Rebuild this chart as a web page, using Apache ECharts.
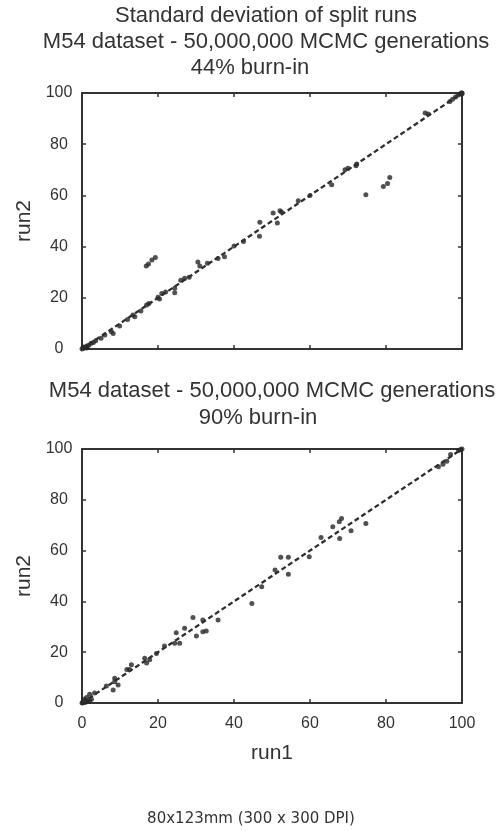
<!DOCTYPE html>
<html>
<head>
<meta charset="utf-8">
<script src="https://cdn.jsdelivr.net/npm/echarts@6/dist/echarts.min.js"></script>
<style>
html,body{margin:0;padding:0;background:#fff;}
#chart{width:500px;height:831px;}
</style>
</head>
<body>
<div id="chart"></div>
<script>
// ---- data ----
const titleTop = ['Standard deviation of split runs', 'M54 dataset - 50,000,000 MCMC generations', '44% burn-in'];
const titleBottom = ['M54 dataset - 50,000,000 MCMC generations', '90% burn-in'];
const caption = '80x123mm (300 x 300 DPI)';
const xName = 'run1';
const yName = 'run2';
const tickValues = [0, 20, 40, 60, 80, 100];
const diagonal = [0, 100];

// 44% burn-in
const run1Top = [0, 0.4, 0.9, 1.3, 1.8, 2.4, 3.0, 0.3, 1.2, 3.6, 5.0, 6.0, 7.7, 8.2, 9.9, 12.0, 13.4, 13.9, 15.5, 17.0, 17.6, 20.0, 20.4, 21.0, 22.0, 24.4, 24.4, 26.0, 27.0, 28.2,
  16.9, 17.5, 18.4, 19.3,
  30.5, 31.0, 33.0, 35.8, 37.5, 40.0, 42.5,
  46.8, 46.7, 50.3, 51.4, 52.1, 52.5, 56.9, 60.0, 65.7, 69.2, 70.0, 72.1, 72.3,
  74.7, 79.3, 80.4, 81.0,
  90.3, 91.1, 96.8, 97.5, 98.3, 99.0, 99.5, 100, 99.8, 100];
const run2Top = [0, 0.3, 0.8, 1.2, 1.5, 2.2, 2.5, 0.8, 0.4, 3.2, 4.2, 5.5, 6.8, 6.1, 9.0, 11.5, 13.3, 12.6, 14.8, 17.2, 17.8, 20.2, 19.5, 21.7, 22.3, 22.0, 23.7, 26.9, 27.6, 28.0,
  32.4, 33.2, 34.8, 35.7,
  34.0, 32.4, 33.5, 35.4, 36.0, 40.2, 42.0,
  49.5, 44.0, 53.1, 49.2, 54.0, 53.5, 57.9, 60.0, 64.2, 70.0, 70.6, 71.6, 72.3,
  60.3, 63.5, 64.6, 67.0,
  92.2, 91.8, 96.7, 97.6, 98.4, 99.2, 99.6, 100, 100, 99.7];

// 90% burn-in
const run1Bot = [0, 0.3, 0.8, 1.0, 1.5, 0.5, 2.0, 2.5, 1.2, 0.2, 2.0, 3.3, 6.4, 8.6, 8.6, 8.2, 9.5, 12.5, 13.0, 11.8, 16.5, 17.0, 17.8, 19.6, 21.7, 24.8, 25.7, 24.4, 27.0, 29.2, 30.1, 31.8, 32.7, 31.8, 35.8,
  44.7, 47.3, 50.8, 52.3, 54.3, 54.3, 59.8, 62.9, 66.0, 67.7, 68.3, 67.8, 70.8, 74.7,
  93.8, 95.0, 96.0, 97.0, 99.1, 100, 99.6];
const run2Bot = [0, 0.5, 0.2, 1.0, 0.6, 1.5, 0.8, 1.5, 2.2, 0.1, 3.4, 3.9, 6.7, 9.7, 8.4, 5.1, 7.1, 13.2, 15.1, 13.2, 17.6, 15.7, 17.0, 19.5, 22.4, 27.7, 23.5, 23.5, 29.4, 33.7, 26.4, 28.1, 28.3, 32.7, 32.7,
  39.2, 45.8, 52.4, 57.4, 57.4, 50.7, 57.6, 65.2, 69.4, 71.4, 72.6, 64.8, 67.8, 70.7,
  93.0, 94.0, 95.2, 97.8, 99.4, 100, 99.8];

// ---- chart ----
const FONT = "'Liberation Sans', Arial, Helvetica, sans-serif";
const INK = '#333';
const chart = echarts.init(document.getElementById('chart'), null, {renderer: 'canvas'});

const zip = (a, b) => a.map((v, i) => [v, b[i]]);
const diag = diagonal.map(v => [v, v]);

function xAx(grid, pos, labels) {
  return {
    type: 'value', gridIndex: grid, position: pos, min: tickValues[0], max: tickValues[tickValues.length - 1], interval: 20,
    axisLine: {show: true, onZero: false, lineStyle: {color: INK, width: 2}},
    axisTick: {show: true, inside: true, length: 4, lineStyle: {color: INK, width: 1.5}},
    axisLabel: {show: labels, color: INK, fontSize: 16, fontFamily: FONT, margin: 13},
    splitLine: {show: false},
    name: labels ? xName : '', nameLocation: 'middle', nameGap: 40,
    nameTextStyle: {color: INK, fontSize: 21, fontFamily: FONT}
  };
}
function yAx(grid, pos, labels) {
  return {
    type: 'value', gridIndex: grid, position: pos, min: tickValues[0], max: tickValues[tickValues.length - 1], interval: 20,
    axisLine: {show: true, onZero: false, lineStyle: {color: INK, width: 2}},
    axisTick: {show: true, inside: true, length: 4, lineStyle: {color: INK, width: 1.5}},
    axisLabel: {show: labels, color: INK, fontSize: 16, fontFamily: FONT, margin: 23, align: 'center'},
    splitLine: {show: false},
    name: labels ? yName : '', nameLocation: 'middle', nameGap: 47,
    nameTextStyle: {color: INK, fontSize: 21, fontFamily: FONT}
  };
}

function txt(text, x, y, size, family) {
  return {type: 'text', x: x, y: y, silent: true,
    style: {text: text, fill: INK, font: size + 'px ' + family, textAlign: 'center', textVerticalAlign: 'middle'}};
}

const scatterStyle = {symbol: 'circle', symbolSize: 5, itemStyle: {color: '#262626'}};
const diagStyle = {symbol: 'none', showSymbol: false, lineStyle: {color: '#2e2e2e', width: 2.3, type: [5, 3]}, silent: true};

chart.setOption({
  animation: false,
  backgroundColor: '#fff',
  grid: [
    {left: 82, top: 93, width: 380, height: 256, containLabel: false, outerBoundsMode: 'none'},
    {left: 82, top: 449, width: 380, height: 254, containLabel: false, outerBoundsMode: 'none'}
  ],
  xAxis: [xAx(0, 'bottom', false), xAx(0, 'top', false), xAx(1, 'bottom', true), xAx(1, 'top', false)],
  yAxis: [yAx(0, 'left', true), yAx(0, 'right', false), yAx(1, 'left', true), yAx(1, 'right', false)],
  series: [
    Object.assign({type: 'scatter', xAxisIndex: 0, yAxisIndex: 0, data: zip(run1Top, run2Top)}, scatterStyle),
    Object.assign({type: 'line', xAxisIndex: 0, yAxisIndex: 0, data: diag}, diagStyle),
    Object.assign({type: 'scatter', xAxisIndex: 2, yAxisIndex: 2, data: zip(run1Bot, run2Bot)}, scatterStyle),
    Object.assign({type: 'line', xAxisIndex: 2, yAxisIndex: 2, data: diag}, diagStyle)
  ],
  graphic: [
    txt(titleTop[0], 266, 16, 22, FONT),
    txt(titleTop[1], 266, 42, 22, FONT),
    txt(titleTop[2], 250, 68, 22, FONT),
    txt(titleBottom[0], 272, 391, 22, FONT),
    txt(titleBottom[1], 258, 418, 22, FONT),
    txt(caption, 251, 819, 15, "'DejaVu Sans', Verdana, sans-serif")
  ]
});
</script>
</body>
</html>
